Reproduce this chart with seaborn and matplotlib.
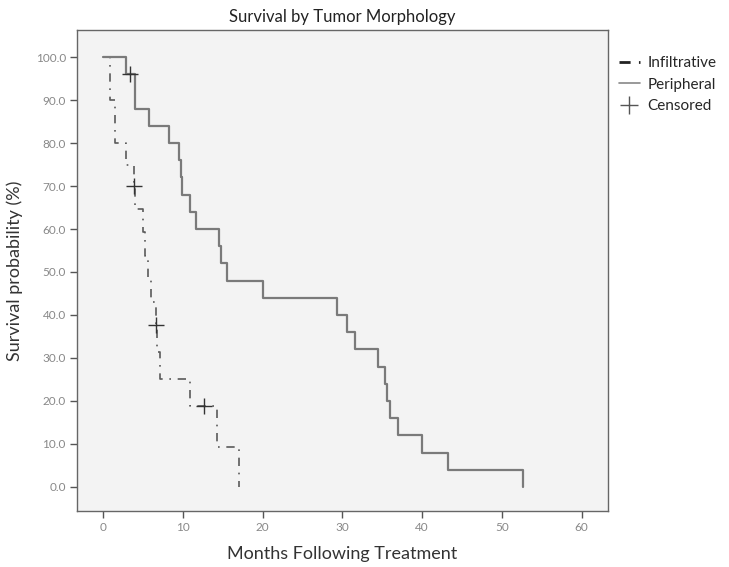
import numpy as np
import pandas as pd
import matplotlib
matplotlib.use('Agg')
import matplotlib.pyplot as plt
import seaborn as sns
from matplotlib.lines import Line2D

# Kaplan-Meier step values (months, survival %)
periph_months = [0, 2.8, 3.95, 5.75, 8.2, 9.5, 9.7, 9.85, 10.9, 11.6, 14.5, 14.8, 15.5,
                 20.0, 29.3, 30.6, 31.6, 34.4, 35.3, 35.6, 35.9, 37.0, 40.0, 43.2, 52.6]
periph_surv = [100, 96, 88, 84, 80, 76, 72, 68, 64, 60, 56, 52, 48,
               44, 40, 36, 32, 28, 24, 20, 16, 12, 8, 4, 0]

infil_months = [0, 0.9, 1.5, 2.9, 3.9, 3.95, 5.0, 5.25, 5.65, 6.0, 6.55, 6.7, 7.1, 10.9, 14.3, 17.0]
infil_surv = [100, 90, 80, 75, 70, 64.6, 59.2, 53.8, 48.4, 43.1, 37.7, 31.4, 25.1, 18.8, 9.4, 0]

# censored observations
cens_months = [3.3, 3.9, 6.6, 12.65]
cens_surv = [96.0, 70.0, 37.7, 18.8]

df = pd.concat([
    pd.DataFrame({'Months': infil_months, 'Survival': infil_surv, 'Morphology': 'Infiltrative'}),
    pd.DataFrame({'Months': periph_months, 'Survival': periph_surv, 'Morphology': 'Peripheral'}),
], ignore_index=True)
cens = pd.DataFrame({'Months': cens_months, 'Survival': cens_surv})

sns.set_theme(style='ticks')
plt.rcParams['font.family'] = ['Lato', 'DejaVu Sans']

fig = plt.figure(figsize=(7.29, 5.67), dpi=100)
ax = fig.add_axes([0.1056, 0.0988, 0.7284, 0.8483])
ax.set_facecolor('#f3f3f3')

colors = {'Infiltrative': '#5a5a5a', 'Peripheral': '#7a7a7a'}
sns.lineplot(data=df, x='Months', y='Survival', hue='Morphology', style='Morphology',
             palette=colors, dashes={'Infiltrative': (5, 4, 1, 4), 'Peripheral': ''},
             drawstyle='steps-post', estimator=None, sort=False, linewidth=1.6,
             legend=False, ax=ax)
ax.lines[0].set_linewidth(1.2)
sns.scatterplot(data=cens, x='Months', y='Survival', marker='+', s=120, color='#333333',
                linewidth=1.0, legend=False, ax=ax, zorder=5)

ax.set_xlim(-3.3, 63.3)
ax.set_ylim(-5.6, 106.3)
ax.set_xticks(range(0, 61, 10))
ax.set_yticks(range(0, 101, 10))
ax.set_yticklabels([f'{v:.1f}' for v in range(0, 101, 10)])
ax.tick_params(direction='out', length=5, width=1, color='#555555', labelcolor='#888888',
               labelsize=8.5, pad=3)
for sp in ax.spines.values():
    sp.set_color('#666666')
    sp.set_linewidth(1)

ax.set_title('Survival by Tumor Morphology', fontsize=12, color='#222222', pad=6)
ax.set_xlabel('Months Following Treatment', fontsize=13, color='#333333', labelpad=9)
ax.set_ylabel('Survival probability (%)', fontsize=13, color='#333333', labelpad=9)

handles = [
    Line2D([], [], color='#222222', linestyle=(0, (4, 3, 1, 3)), linewidth=2),
    Line2D([], [], color='#888888', linestyle='-', linewidth=1.2),
    Line2D([], [], color='#555555', linestyle='none', marker='+', markersize=13, markeredgewidth=1),
]
ax.legend(handles, ['Infiltrative', 'Peripheral', 'Censored'], loc='upper left',
          bbox_to_anchor=(1.0, 0.968), frameon=False, fontsize=11, handlelength=1.4,
          handletextpad=0.5, labelspacing=0.5, borderaxespad=0.3)

fig.savefig('out.png', dpi=100)
